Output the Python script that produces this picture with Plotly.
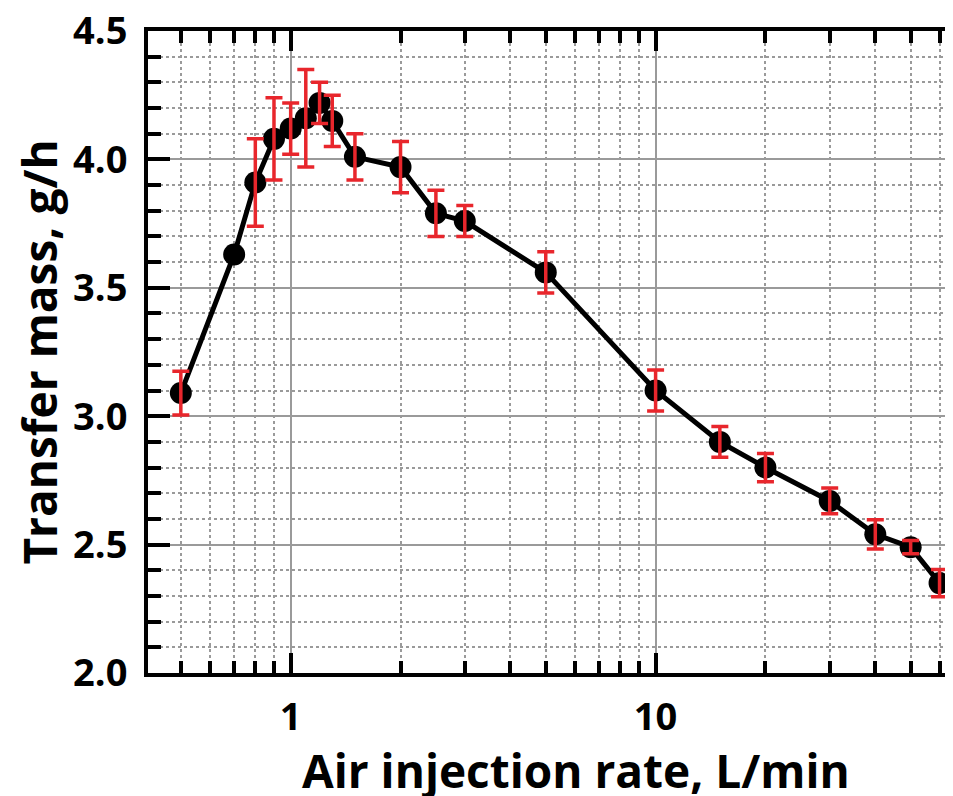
import plotly.graph_objects as go

air_rate = [0.5, 0.7, 0.8, 0.9, 1.0, 1.1, 1.2, 1.3, 1.5, 2, 2.5, 3, 5, 10, 15, 20, 30, 40, 50, 60]
transfer_mass = [3.09, 3.63, 3.91, 4.08, 4.12, 4.16, 4.22, 4.15, 4.01, 3.97, 3.79, 3.76, 3.56,
                 3.10, 2.90, 2.80, 2.67, 2.54, 2.49, 2.35]
mass_err = [0.085, None, 0.17, 0.16, 0.10, 0.19, 0.08, 0.10, 0.09, 0.10, 0.09, 0.06, 0.08,
            0.08, 0.06, 0.055, 0.05, 0.057, 0.026, 0.053]

x_major = [1, 10]
x_major_text = ["1", "10"]
x_minor = [0.5, 0.6, 0.7, 0.8, 0.9, 2, 3, 4, 5, 6, 7, 8, 9, 20, 30, 40, 50, 60]

x_title = "Air injection rate, L/min"
y_title = "Transfer mass, g/h"

FONT = "Open Sans"
GRID = "#9a9a9a"

# points that carry an error bar
eb_x = [x for x, e in zip(air_rate, mass_err) if e is not None]
eb_y = [y for y, e in zip(transfer_mass, mass_err) if e is not None]
eb_e = [e for e in mass_err if e is not None]

fig = go.Figure()
fig.add_trace(go.Scatter(
    x=air_rate, y=transfer_mass, mode="lines+markers",
    line=dict(color="black", width=5),
    marker=dict(color="black", size=22),
    showlegend=False, hoverinfo="skip",
))
fig.add_trace(go.Scatter(
    x=eb_x, y=eb_y, mode="markers",
    marker=dict(color="rgba(0,0,0,0)", size=1),
    error_y=dict(type="data", array=eb_e, visible=True,
                 color="#E8262C", thickness=3.5, width=8.5),
    showlegend=False, hoverinfo="skip",
))

fig.update_layout(
    width=945, height=788,
    margin=dict(l=140, r=0, t=23, b=123, autoexpand=False),
    paper_bgcolor="white", plot_bgcolor="white",
    font=dict(family=FONT, color="black"),
    xaxis=dict(
        type="log", range=[-0.391, 1.815],
        tickmode="array", tickvals=x_major, ticktext=x_major_text,
        ticks="inside", ticklen=20, tickwidth=3.5, tickcolor="black",
        showline=True, linewidth=4, linecolor="black", mirror="ticks",
        showgrid=True, gridcolor=GRID, gridwidth=2,
        tickfont=dict(family=FONT, size=38, color="black", weight="bold"),
        ticklabelstandoff=7, ticklabeloverflow="allow",
        minor=dict(tickmode="array", tickvals=x_minor, ticks="inside", ticklen=12,
                   tickwidth=3.5, tickcolor="black", showgrid=True,
                   gridcolor=GRID, gridwidth=2, griddash="dot"),
        zeroline=False,
    ),
    yaxis=dict(
        range=[2.0, 4.5], tick0=2.0, dtick=0.5, tickformat=".1f",
        ticks="inside", ticklen=22, tickwidth=3.5, tickcolor="black",
        showline=True, linewidth=4, linecolor="black", mirror=False,
        showgrid=True, gridcolor=GRID, gridwidth=2,
        tickfont=dict(family=FONT, size=38, color="black", weight="bold"),
        ticklabelstandoff=9, ticklabeloverflow="allow",
        title=dict(text="<b>" + y_title + "</b>",
                   font=dict(family=FONT, size=46, color="black"), standoff=18),
        minor=dict(dtick=0.1, ticks="inside", ticklen=13, tickwidth=3.5,
                   tickcolor="black", showgrid=True, gridcolor=GRID,
                   gridwidth=2, griddash="dot"),
        zeroline=False,
    ),
    yaxis2=dict(
        overlaying="y", side="right", anchor="x", matches="y",
        range=[2.0, 4.5], tick0=2.0, dtick=0.5,
        ticks="inside", ticklen=10, tickwidth=3.5, tickcolor="black",
        showticklabels=False, showgrid=False, showline=False, zeroline=False,
        minor=dict(dtick=0.1, ticks="inside", ticklen=2, tickwidth=3.5,
                   tickcolor="black", showgrid=False),
    ),
    annotations=[dict(
        text="<b>" + x_title + "</b>", xref="paper", yref="paper",
        x=0.5317, y=-0.1511, xanchor="center", yanchor="middle",
        showarrow=False, font=dict(family=FONT, size=46, color="black"),
    )],
)

fig.write_html("out.html")
